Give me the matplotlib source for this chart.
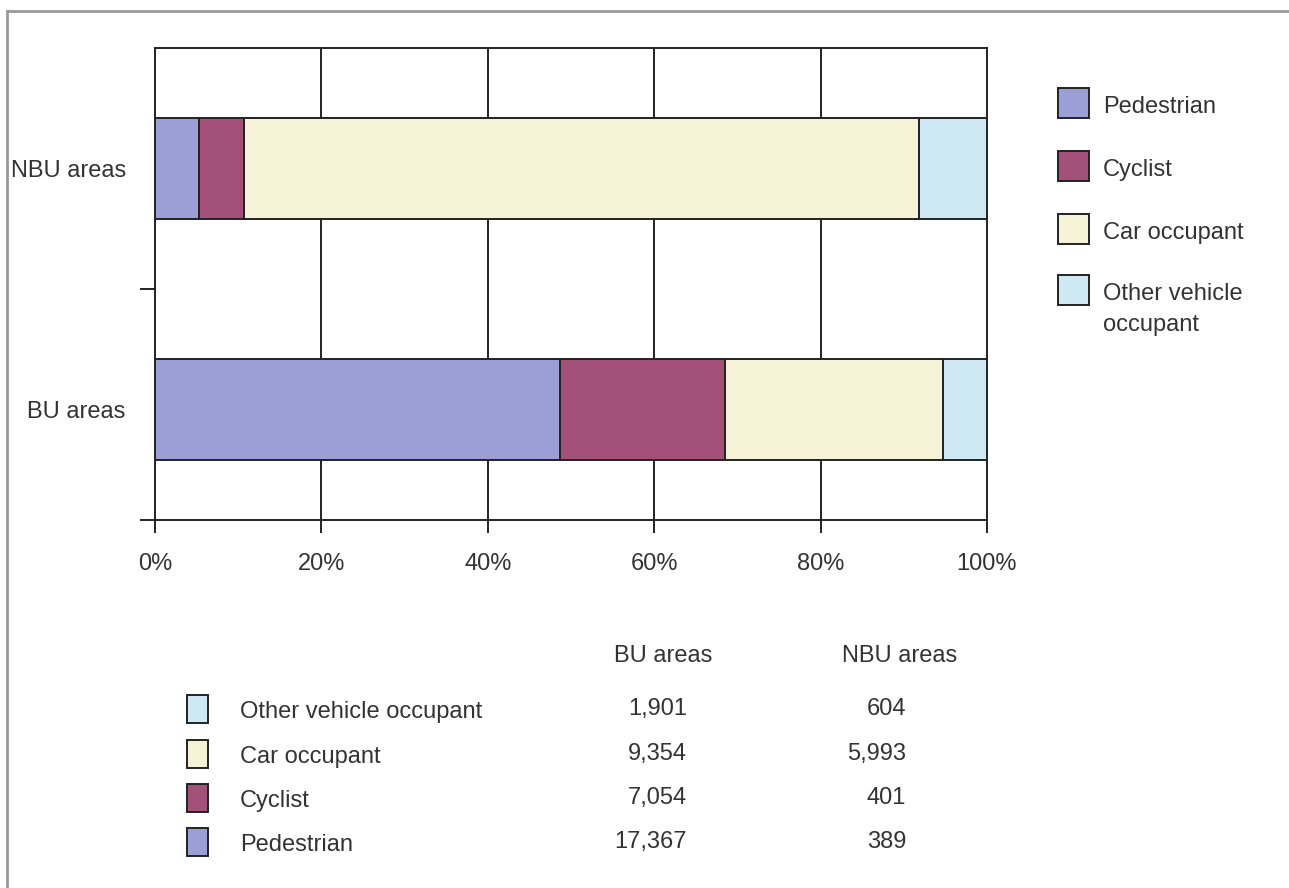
import matplotlib
matplotlib.use("Agg")
import matplotlib.pyplot as plt
from matplotlib.patches import Rectangle
from matplotlib.lines import Line2D
import numpy as np

plt.rcParams['font.family'] = ['Liberation Sans', 'DejaVu Sans']

# ---- data ----
areas = ["BU areas", "NBU areas"]
categories = ["Pedestrian", "Cyclist", "Car occupant", "Other vehicle occupant"]
legend_labels = ["Pedestrian", "Cyclist", "Car occupant", "Other vehicle\noccupant"]
bu_counts = [17367, 7054, 9354, 1901]
nbu_counts = [389, 401, 5993, 604]
colors = ["#9c9fd6", "#a4517a", "#f6f2d8", "#cfe9f4"]
xtick_vals = [0, 20, 40, 60, 80, 100]
xtick_labels = ["0%", "20%", "40%", "60%", "80%", "100%"]

W, H = 1289, 888
fig = plt.figure(figsize=(W / 100, H / 100), dpi=100)
TXT = "#333333"
FS = 17

def fx(px):
    return px / W

def fy(py):
    return 1 - py / H

ax = fig.add_axes([fx(155), fy(520), fx(987) - fx(155), fy(48) - fy(520)])

counts = np.array([bu_counts, nbu_counts], dtype=float)
pct = counts / counts.sum(axis=1, keepdims=True) * 100
ypos = np.arange(len(areas))
left = np.zeros(len(areas))
for i, cat in enumerate(categories):
    ax.barh(ypos, pct[:, i], left=left, height=0.42, color=colors[i],
            edgecolor="#222222", linewidth=1.4, zorder=3)
    left += pct[:, i]

ax.set_xlim(0, 100)
ylo, yhi = -0.46, 1.5
ax.set_ylim(ylo, yhi)

# gridlines
for v in xtick_vals[1:-1]:
    ax.axvline(v, color="#222222", linewidth=1.4, zorder=1)

for s in ax.spines.values():
    s.set_color("#222222")
    s.set_linewidth(1.4)

ax.set_xticks(xtick_vals)
ax.set_xticklabels(xtick_labels, fontsize=FS, color=TXT)
ax.tick_params(axis='x', direction='out', length=9, width=1.4, color="#222222", pad=15)

ax.set_yticks([ylo, 0.5])
ax.set_yticklabels(["", ""])
ax.tick_params(axis='y', which='major', direction='out', length=11, width=1.4, color="#222222")
ax.set_yticks(ypos, minor=True)
ax.set_yticklabels(areas, minor=True, fontsize=FS, color=TXT)
ax.tick_params(axis='y', which='minor', length=0, pad=21)

# ---- right legend ----
leg_y = [103, 166, 229, 290]
for i, lab in enumerate(legend_labels):
    cy = leg_y[i]
    fig.add_artist(Rectangle((fx(1058), fy(cy + 15)), fx(31), fy(cy - 15) - fy(cy + 15),
                             facecolor=colors[i], edgecolor="#222222", linewidth=1.4,
                             transform=fig.transFigure))
    fig.text(fx(1103), fy(cy - 7), lab, fontsize=FS, color=TXT, va='top', ha='left',
             linespacing=1.5)

# ---- bottom table ----
fig.text(fx(663), fy(656), areas[0], fontsize=FS, color=TXT, ha='center', va='center')
fig.text(fx(900), fy(656), areas[1], fontsize=FS, color=TXT, ha='center', va='center')
row_y = [709, 754, 798, 842]
for r, idx in enumerate(reversed(range(len(categories)))):
    cy = row_y[r]
    fig.add_artist(Rectangle((fx(187), fy(cy + 14)), fx(21), fy(cy - 14) - fy(cy + 14),
                             facecolor=colors[idx], edgecolor="#222222", linewidth=1.4,
                             transform=fig.transFigure))
    fig.text(fx(240), fy(cy + 3), categories[idx], fontsize=FS, color=TXT, ha='left', va='center')
    fig.text(fx(687), fy(cy), f"{bu_counts[idx]:,}", fontsize=FS, color=TXT, ha='right', va='center')
    fig.text(fx(906), fy(cy), f"{nbu_counts[idx]:,}", fontsize=FS, color=TXT, ha='right', va='center')

# frame border (top & left)
fig.add_artist(Line2D([fx(7), 1], [fy(11), fy(11)], color="#999999", linewidth=2,
                      transform=fig.transFigure))
fig.add_artist(Line2D([fx(7), fx(7)], [fy(11), 0], color="#999999", linewidth=2,
                      transform=fig.transFigure))

fig.savefig("out.png", dpi=100)
